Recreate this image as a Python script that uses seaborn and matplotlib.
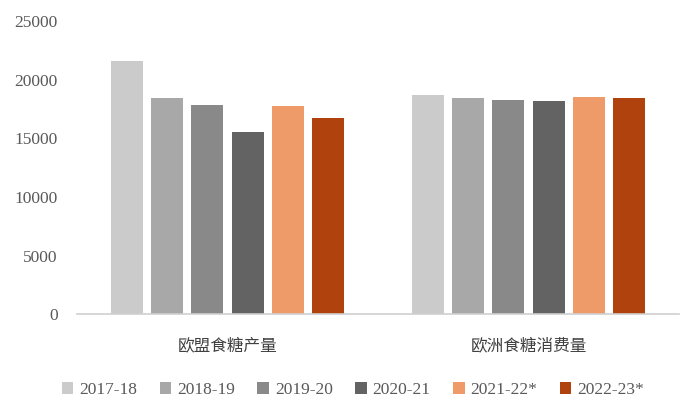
import matplotlib
matplotlib.use("Agg")
import matplotlib.pyplot as plt
import seaborn as sns
import pandas as pd
from matplotlib.patches import Patch

categories = ["欧盟食糖产量", "欧洲食糖消费量"]
seasons = ["2017-18", "2018-19", "2019-20", "2020-21", "2021-22*", "2022-23*"]
production = [21600, 18430, 17880, 15560, 17740, 16740]
consumption = [18680, 18430, 18280, 18190, 18540, 18430]
colors = ["#CBCBCB", "#A8A8A8", "#898989", "#636363", "#EE9A69", "#B0420E"]
yticks = [0, 5000, 10000, 15000, 20000, 25000]

rows = []
for s, p, c in zip(seasons, production, consumption):
    rows.append({"category": categories[0], "season": s, "value": p})
    rows.append({"category": categories[1], "season": s, "value": c})
df = pd.DataFrame(rows)

sns.set_theme(style="white")
plt.rcParams["font.family"] = ["Liberation Serif", "Noto Sans CJK SC", "DejaVu Sans"]

fig = plt.figure(figsize=(7.0, 4.19), dpi=100)
ax = fig.add_axes([77 / 700, 1 - 314.3 / 419, 602 / 700, 293.3 / 419])

sns.barplot(data=df, x="category", y="value", hue="season", order=categories,
            hue_order=seasons, palette=colors, width=0.8, gap=0.2,
            saturation=1, linewidth=0, ax=ax, legend=False)

ax.set_xlim(-0.5, 1.5)
ax.set_ylim(0, 25000)
ax.set_yticks(yticks)
ax.set_yticklabels([str(v) for v in yticks])
ax.set_xlabel("")
ax.set_ylabel("")
for sp in ["top", "right", "left"]:
    ax.spines[sp].set_visible(False)
ax.spines["bottom"].set_color("#CFCFCF")
ax.spines["bottom"].set_linewidth(1.2)
ax.tick_params(axis="y", length=0, pad=14, labelsize=12.5, labelcolor="#595959")
ax.tick_params(axis="x", length=0, pad=17, labelsize=12, labelcolor="#404040")
ax.grid(False)

handles = [Patch(facecolor=c, edgecolor="none") for c in colors]
fig.legend(handles, seasons, loc="center", bbox_to_anchor=(353 / 700, 1 - 390 / 419),
           ncol=6, frameon=False, fontsize=12.5, handlelength=0.65, handleheight=0.65,
           handletextpad=0.35, columnspacing=1.3, labelcolor="#595959")

fig.savefig("out.png", dpi=100, facecolor="white")
